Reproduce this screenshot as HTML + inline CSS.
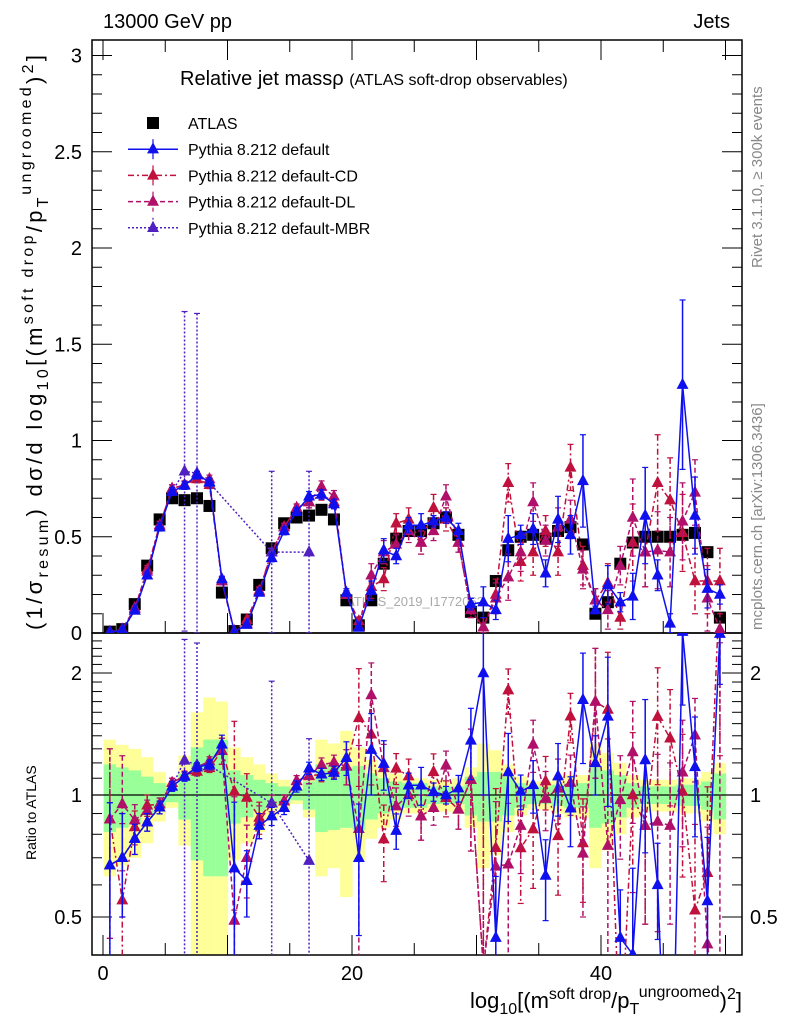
<!DOCTYPE html>
<html><head><meta charset="utf-8"><style>
html,body{margin:0;padding:0;background:#fff;overflow:hidden;width:786px;height:1024px;}
svg{display:block;font-family:"Liberation Sans",sans-serif;}
</style></head><body>
<svg id="chart" width="786" height="1024" viewBox="0 0 786 1024" xmlns="http://www.w3.org/2000/svg">
<defs>
<clipPath id="cm"><rect x="92" y="40" width="650" height="593"/></clipPath>
<clipPath id="cr"><rect x="92" y="633" width="650" height="322"/></clipPath>
</defs>
<text x="103" y="28" font-size="20">13000 GeV pp</text>
<text x="730" y="28" font-size="20" text-anchor="end">Jets</text>
<text transform="translate(762,268) rotate(-90)" font-size="15" fill="#888">Rivet 3.1.10, ≥ 300k events</text>
<text transform="translate(762,630) rotate(-90)" font-size="15" fill="#888">mcplots.cern.ch [arXiv:1306.3436]</text>
<text x="180" y="85" font-size="20">Relative jet massρ <tspan font-size="16">(ATLAS soft-drop observables)</tspan></text>
<text x="415" y="606" font-size="13" fill="#aaa" text-anchor="middle">ATLAS_2019_I1772062</text>
<text transform="translate(42,630) rotate(-90)" font-size="22" textLength="575" lengthAdjust="spacing">(1/σ<tspan font-size="16" dy="6">resum</tspan><tspan dy="-6">) dσ/d log</tspan><tspan font-size="16" dy="6">10</tspan><tspan dy="-6">[(m</tspan><tspan font-size="16" dy="-9">soft drop</tspan><tspan dy="9">/p</tspan><tspan font-size="16" dy="6">T</tspan><tspan font-size="16" dy="-17">ungroomed</tspan><tspan dy="11">)</tspan><tspan font-size="16" dy="-9">2</tspan><tspan dy="9">]</tspan></text>
<text transform="translate(36,860) rotate(-90)" font-size="14">Ratio to ATLAS</text>
<text x="470" y="1008" font-size="22" textLength="272" lengthAdjust="spacing">log<tspan font-size="16" dy="6">10</tspan><tspan dy="-6">[(m</tspan><tspan font-size="16" dy="-9">soft drop</tspan><tspan dy="9">/p</tspan><tspan font-size="16" dy="6">T</tspan><tspan font-size="16" dy="-17">ungroomed</tspan><tspan dy="11">)</tspan><tspan font-size="16" dy="-9">2</tspan><tspan dy="9">]</tspan></text>
<g id="bands" clip-path="url(#cr)"></g>
<g id="axes"></g>
<g id="mainMarks" clip-path="url(#cm)"></g>
<g id="ratioMarks" clip-path="url(#cr)"></g>
<g id="legend"></g>
</svg>
<script>
const atlas=[0.007,0.02,0.15,0.35,0.59,0.70,0.69,0.70,0.66,0.21,0.01,0.07,0.25,0.44,0.57,0.60,0.61,0.64,0.59,0.17,0.04,0.17,0.36,0.49,0.53,0.53,0.57,0.60,0.51,0.11,0.08,0.27,0.43,0.50,0.51,0.49,0.53,0.55,0.46,0.10,0.16,0.36,0.47,0.50,0.50,0.50,0.51,0.52,0.42,0.08];
const pyDefault=[0.0047,0.014,0.117,0.30,0.55,0.735,0.766,0.82,0.785,0.28,0.0066,0.043,0.21,0.39,0.53,0.63,0.71,0.72,0.67,0.21,0.028,0.22,0.43,0.40,0.56,0.56,0.58,0.60,0.53,0.15,0.16,0.12,0.49,0.51,0.54,0.31,0.59,0.51,0.79,0.12,0.25,0.16,0.19,0.61,0.30,0.05,1.29,0.61,0.23,0.20];
const pyDefaultErr=[0.002,0.004,0.01,0.015,0.02,0.02,0.02,0.02,0.02,0.015,0.003,0.008,0.015,0.02,0.02,0.02,0.025,0.025,0.025,0.02,0.01,0.05,0.06,0.04,0.04,0.06,0.03,0.03,0.04,0.03,0.08,0.05,0.12,0.05,0.08,0.07,0.12,0.10,0.24,0.02,0.10,0.05,0.12,0.25,0.08,0.05,0.44,0.20,0.10,0.05];
const pyCD=[0.0061,0.011,0.125,0.33,0.56,0.75,0.77,0.80,0.77,0.27,0.0102,0.069,0.22,0.42,0.55,0.65,0.68,0.72,0.68,0.20,0.062,0.24,0.28,0.57,0.59,0.47,0.65,0.59,0.47,0.12,0.03,0.20,0.78,0.37,0.42,0.53,0.42,0.86,0.35,0.17,0.26,0.08,0.47,0.42,0.78,0.69,0.52,0.27,0.27,0.27];
const pyCDErr=[0.003,0.006,0.012,0.02,0.02,0.02,0.02,0.02,0.02,0.02,0.005,0.01,0.02,0.02,0.02,0.02,0.03,0.03,0.03,0.02,0.02,0.06,0.06,0.05,0.06,0.06,0.07,0.06,0.05,0.04,0.05,0.08,0.10,0.10,0.12,0.08,0.12,0.12,0.10,0.06,0.10,0.06,0.20,0.18,0.25,0.22,0.20,0.17,0.17,0.17];
const pyDL=[0.0061,0.019,0.13,0.32,0.56,0.75,0.77,0.82,0.80,0.27,0.0049,0.049,0.215,0.42,0.55,0.65,0.68,0.76,0.71,0.20,0.033,0.30,0.42,0.46,0.53,0.47,0.53,0.71,0.47,0.12,0.03,0.18,0.29,0.42,0.68,0.48,0.55,0.59,0.33,0.17,0.12,0.35,0.60,0.42,0.43,0.42,0.58,0.73,0.18,0.02];
const pyDLErr=[0.003,0.006,0.012,0.02,0.02,0.02,0.02,0.02,0.02,0.02,0.005,0.01,0.02,0.02,0.02,0.02,0.03,0.03,0.03,0.02,0.02,0.06,0.06,0.05,0.06,0.06,0.05,0.06,0.05,0.04,0.05,0.08,0.12,0.10,0.10,0.08,0.10,0.10,0.10,0.06,0.10,0.10,0.20,0.18,0.20,0.18,0.20,0.17,0.17,0.17];
const pyMBR=[0.0047,0.014,0.117,0.30,0.55,0.735,0.84,0.83,0.78,null,null,null,null,0.42,null,null,0.42,null,null,null,null,null,null,null,null,null,null,null,null,null,null,null,null,null,null,null,null,null,null,null,null,null,null,null,null,null,null,null,null,null];
const pyMBRErr=[0.002,0.004,0.01,0.015,0.02,0.02,0.83,0.83,0.02,null,null,null,null,0.42,null,null,0.42,null,null,null,null,null,null,null,null,null,null,null,null,null,null,null,null,null,null,null,null,null,null,null,null,null,null,null,null,null,null,null,null,null];
const bandYellow=[0.37,0.33,0.30,0.24,0.14,0.07,0.25,0.60,0.74,0.70,0.31,0.24,0.19,0.13,0.09,0.05,0.12,0.37,0.34,0.44,0.31,0.22,0.17,0.13,0.10,0.10,0.09,0.09,0.10,0.17,0.34,0.29,0.19,0.11,0.08,0.08,0.10,0.12,0.12,0.34,0.27,0.20,0.12,0.09,0.09,0.09,0.10,0.10,0.14,0.20];
const bandGreen=[0.19,0.17,0.15,0.11,0.07,0.04,0.13,0.31,0.37,0.37,0.15,0.12,0.09,0.07,0.05,0.03,0.08,0.19,0.18,0.17,0.18,0.13,0.10,0.08,0.07,0.07,0.05,0.05,0.05,0.11,0.14,0.14,0.11,0.07,0.05,0.05,0.06,0.07,0.07,0.17,0.15,0.12,0.07,0.05,0.05,0.05,0.06,0.06,0.08,0.13];
const xTicksLabeled=[0,20,40];
const mainYTicks=[0,0.5,1,1.5,2,2.5,3];
const mainYLabels=["0","0.5","1","1.5","2","2.5","3"];
const ratioYTicks=[0.5,1,2];
const ratioYLabels=["0.5","1","2"];

const NS="http://www.w3.org/2000/svg";
const L=92,R=742,MT=40,MB=633,RB=955;
function xs(v){return 103+12.45*v;}
function ys(v){return 633-192.5*v;}
function yr(r){return 795-122*Math.log2(r);}
function mk(tag,attrs,parent){const e=document.createElementNS(NS,tag);for(const k in attrs)e.setAttribute(k,attrs[k]);parent.appendChild(e);return e;}
const axes=document.getElementById('axes');
const bands=document.getElementById('bands');
const mm=document.getElementById('mainMarks');
const rm=document.getElementById('ratioMarks');
const lg=document.getElementById('legend');
function cx(i){return xs(i+0.55);}

for(let i=0;i<atlas.length;i++){
  const x0=xs(i+0.05),x1=xs(i+1.05);
  const y=mk('rect',{x:x0,y:yr(1+bandYellow[i]),width:x1-x0,height:yr(Math.max(0.01,1-bandYellow[i]))-yr(1+bandYellow[i]),fill:'#ffff99'},bands);
  
  
}
for(let i=0;i<atlas.length;i++){
  const x0=xs(i+0.05),x1=xs(i+1.05);
  const g=mk('rect',{x:x0,y:yr(1+bandGreen[i]),width:x1-x0,height:yr(1-bandGreen[i])-yr(1+bandGreen[i]),fill:'#99ff99'},bands);
  
  
}
const one=mk('line',{x1:L,x2:R,y1:yr(1),y2:yr(1),stroke:'#000','stroke-width':1.3},bands);



const f1=mk('rect',{x:L,y:MT,width:R-L,height:MB-MT,fill:'none',stroke:'#000','stroke-width':1.5},axes);


const f2=mk('rect',{x:L,y:MB,width:R-L,height:RB-MB,fill:'none',stroke:'#000','stroke-width':1.5},axes);


for(let v=0;v<=3.0001;v+=0.1){
  const major=Math.abs(v*2-Math.round(v*2))<1e-6;const len=major?20:10;
  mk('line',{x1:L,x2:L+len,y1:ys(v),y2:ys(v),stroke:'#000','stroke-width':1},axes);
  mk('line',{x1:R,x2:R-len,y1:ys(v),y2:ys(v),stroke:'#000','stroke-width':1},axes);
}
mainYTicks.forEach((v,i)=>{const t=mk('text',{x:82,y:ys(v)+7,'font-size':20,'text-anchor':'end'},axes);t.textContent=mainYLabels[i];

});
const rmin=[0.4,0.5,0.6,0.7,0.8,0.9,1,1.1,1.2,1.3,1.4,1.5,1.6,1.7,1.8,1.9,2,2.1,2.2,2.3,2.4];
rmin.forEach(r=>{const major=ratioYTicks.includes(r);const len=major?20:10;const y=yr(r);if(y<MB||y>RB)return;
  mk('line',{x1:L,x2:L+len,y1:y,y2:y,stroke:'#000'},axes);mk('line',{x1:R,x2:R-len,y1:y,y2:y,stroke:'#000'},axes);});
ratioYTicks.forEach((v,i)=>{const t=mk('text',{x:82,y:yr(v)+7,'font-size':20,'text-anchor':'end'},axes);t.textContent=ratioYLabels[i];


const t2=mk('text',{x:750,y:yr(v)+7,'font-size':20},axes);t2.textContent=ratioYLabels[i];

});
for(let v=0;v<=50;v+=1){const major=v%10===0;const mid=v%5===0;const len=major?20:(mid?12:0);if(!len)continue;
  [MB,RB].forEach(b=>mk('line',{x1:xs(v),x2:xs(v),y1:b,y2:b-len,stroke:'#000'},axes));
  mk('line',{x1:xs(v),x2:xs(v),y1:MT,y2:MT+len,stroke:'#000'},axes);}
xTicksLabeled.forEach(v=>{const t=mk('text',{x:xs(v),y:980,'font-size':20,'text-anchor':'middle'},axes);t.textContent=String(v);

});

function tri(parent,x,y,col,s){return mk('polygon',{points:`${x},${y-s} ${x-s*0.85},${y+s*0.6} ${x+s*0.85},${y+s*0.6}`,fill:col},parent);}
function series(vals,errs,col,dash,name,ratio){
  const parent=ratio?rm:mm;const g=mk('g',{},parent);
  
  
  const fy=ratio?(i,v)=>yr(Math.max(v,1e-3)/atlas[i]):(i,v)=>ys(v);
  let pts=[];
  for(let i=0;i<vals.length;i++){if(vals[i]==null)continue;pts.push(cx(i)+','+fy(i,vals[i]));}
  mk('polyline',{points:pts.join(' '),fill:'none',stroke:col,'stroke-width':1.5,'stroke-dasharray':dash},g);
  for(let i=0;i<vals.length;i++){if(vals[i]==null)continue;const x=cx(i);
    const y1=fy(i,vals[i]+errs[i]),y2=fy(i,Math.max(vals[i]-errs[i],1e-4));
    mk('line',{x1:x,x2:x,y1:y1,y2:y2,stroke:col,'stroke-width':1.5,'stroke-dasharray':dash},g);
    mk('line',{x1:x-3,x2:x+3,y1:y1,y2:y1,stroke:col,'stroke-width':1.2},g);
    mk('line',{x1:x-3,x2:x+3,y1:y2,y2:y2,stroke:col,'stroke-width':1.2},g);
    const t=tri(g,x,fy(i,vals[i]),col,7);
    
    }
}
const cBlue='#1010ee',cCD='#c0103c',cDL='#b0106a',cMBR='#5020c0';
for(let i=0;i<atlas.length;i++){const s=mk('rect',{x:cx(i)-6,y:ys(atlas[i])-6,width:12,height:12,fill:'#000'},mm);

}
series(pyCD,pyCDErr,cCD,'6,3,2,3','pythia-default-cd',false);
series(pyDL,pyDLErr,cDL,'5,3','pythia-default-dl',false);
series(pyMBR,pyMBRErr,cMBR,'2,2','pythia-default-mbr',false);
series(pyDefault,pyDefaultErr,cBlue,'','pythia-default',false);
series(pyCD,pyCDErr,cCD,'6,3,2,3','pythia-default-cd',true);
series(pyDL,pyDLErr,cDL,'5,3','pythia-default-dl',true);
series(pyMBR,pyMBRErr,cMBR,'2,2','pythia-default-mbr',true);
series(pyDefault,pyDefaultErr,cBlue,'','pythia-default',true);

const leg=[['ATLAS','#000','sq',''],['Pythia 8.212 default',cBlue,'tri',''],['Pythia 8.212 default-CD',cCD,'tri','6,3,2,3'],['Pythia 8.212 default-DL',cDL,'tri','5,3'],['Pythia 8.212 default-MBR',cMBR,'tri','2,2']];
leg.forEach((e,k)=>{const y=123+26.2*k;const g=mk('g',{},lg);
  
  
  if(e[2]==='sq')mk('rect',{x:147,y:y-6,width:12,height:12,fill:'#000'},g);
  else{mk('line',{x1:128,x2:178,y1:y,y2:y,stroke:e[1],'stroke-width':1.5,'stroke-dasharray':e[3]},g);
    mk('line',{x1:153,x2:153,y1:y-10,y2:y+10,stroke:e[1],'stroke-width':1.2,'stroke-dasharray':e[3]},g);tri(g,153,y,e[1],7);}
  const t=mk('text',{x:188,y:y+6,'font-size':16},g);t.textContent=e[0];});
</script>
</body></html>
